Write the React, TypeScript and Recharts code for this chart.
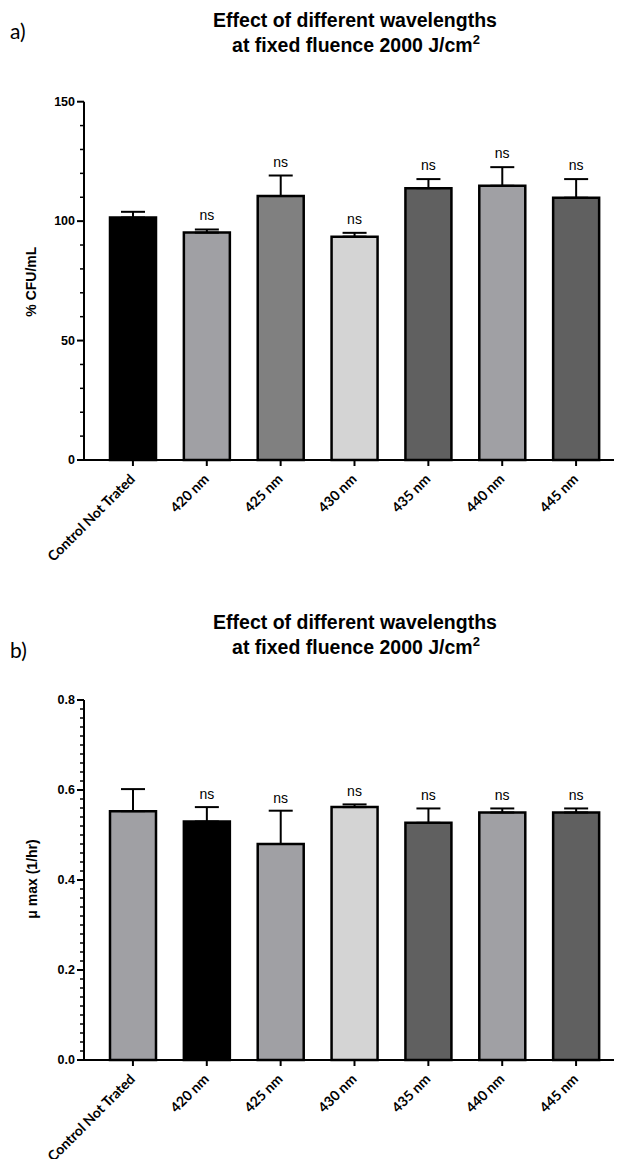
import React from 'react';
import { ComposedChart, Bar, Line, XAxis, YAxis, ErrorBar, LabelList, Cell } from 'recharts';

const categories = ['Control Not Trated', '420 nm', '425 nm', '430 nm', '435 nm', '440 nm', '445 nm'];

const cfuValues = [101.5, 95.2, 110.5, 93.5, 113.8, 114.8, 109.8];
const cfuErrors = [2.4, 1.3, 8.6, 1.6, 3.8, 7.8, 7.8];
const cfuColors = ['#000000', '#a0a0a4', '#808080', '#d4d4d4', '#606060', '#a0a0a4', '#606060'];
const cfuTicks = [0, 10, 20, 30, 40, 50, 60, 70, 80, 90, 100, 110, 120, 130, 140, 150];
const cfuMajorTicks = [0, 50, 100, 150];

const muValues = [0.553, 0.530, 0.480, 0.562, 0.527, 0.550, 0.550];
const muErrors = [0.049, 0.032, 0.074, 0.006, 0.032, 0.009, 0.009];
const muColors = ['#a0a0a4', '#000000', '#a0a0a4', '#d4d4d4', '#606060', '#a0a0a4', '#606060'];
const muTicks = [
  0, 0.02, 0.04, 0.06, 0.08, 0.1, 0.12, 0.14, 0.16, 0.18,
  0.2, 0.22, 0.24, 0.26, 0.28, 0.3, 0.32, 0.34, 0.36, 0.38,
  0.4, 0.42, 0.44, 0.46, 0.48, 0.5, 0.52, 0.54, 0.56, 0.58,
  0.6, 0.62, 0.64, 0.66, 0.68, 0.7, 0.72, 0.74, 0.76, 0.78, 0.8,
];
const muMajorTicks = [0, 0.2, 0.4, 0.6, 0.8];

const sigLabels = ['', 'ns', 'ns', 'ns', 'ns', 'ns', 'ns'];

const buildRows = (values: number[], errors: number[]) =>
  categories.map((name, i) => ({
    name,
    value: values[i],
    err: [0, errors[i]],
    top: values[i] + errors[i],
    sig: sigLabels[i],
  }));

const cfuData = buildRows(cfuValues, cfuErrors);
const muData = buildRows(muValues, muErrors);

const ARIAL = '"Liberation Sans", Arial, sans-serif';

const makeYTick = (majors: number[], fmt: (v: number) => string) => (props: any) => {
  const { x, y, payload } = props;
  const v = payload.value as number;
  const major = majors.some((m) => Math.abs(m - v) < 1e-9);
  const len = major ? 7 : 4;
  return (
    <g>
      <line x1={x - len} x2={x} y1={y} y2={y} stroke="#000" strokeWidth={major ? 2 : 1.5} />
      {major && (
        <text
          x={x - len - 2}
          y={y}
          textAnchor="end"
          dominantBaseline="central"
          fontFamily={ARIAL}
          fontWeight={700}
          fontSize={12.5}
          fill="#000"
        >
          {fmt(v)}
        </text>
      )}
    </g>
  );
};

const XTick = (props: any) => {
  const { x, y, payload } = props;
  const ax = x + 3;
  const ay = y + 14;
  return (
    <text
      x={ax}
      y={ay}
      transform={`rotate(-45, ${ax}, ${ay})`}
      textAnchor="end"
      fontFamily="Lato, 'Open Sans', sans-serif"
      fontWeight={700}
      fontSize={14}
      fill="#000"
    >
      {payload.value}
    </text>
  );
};

type PanelProps = {
  data: any[];
  colors: string[];
  ticks: number[];
  majors: number[];
  domain: [number, number];
  fmt: (v: number) => string;
  height: number;
  marginTop: number;
  marginBottom: number;
  xHeight: number;
  nsOffset: number;
};

const Panel = ({ data, colors, ticks, majors, domain, fmt, height, marginTop, marginBottom, xHeight, nsOffset }: PanelProps) => (
  <ComposedChart
    width={621}
    height={height}
    data={data}
    margin={{ top: marginTop, right: 7, bottom: marginBottom, left: 0 }}
  >
    <XAxis
      dataKey="name"
      height={xHeight}
      interval={0}
      padding={{ left: 12, right: 1 }}
      axisLine={{ stroke: '#000', strokeWidth: 2 }}
      tickLine={{ stroke: '#000', strokeWidth: 2 }}
      tickSize={6}
      tickMargin={0}
      tick={<XTick />}
    />
    <YAxis
      type="number"
      domain={domain}
      ticks={ticks}
      interval={0}
      width={84}
      axisLine={{ stroke: '#000', strokeWidth: 2 }}
      tickLine={false}
      tickSize={0}
      tickMargin={0}
      tick={makeYTick(majors, fmt)}
    />
    <Bar dataKey="value" barSize={46} stroke="#000" strokeWidth={2.5} isAnimationActive={false}>
      {data.map((_, i) => (
        <Cell key={i} fill={colors[i]} />
      ))}
      <ErrorBar dataKey="err" width={12} stroke="#000" strokeWidth={2} direction="y" />
    </Bar>
    <Line
      dataKey="top"
      stroke="none"
      dot={false}
      activeDot={false}
      isAnimationActive={false}
      legendType="none"
    >
      <LabelList
        dataKey="sig"
        position="top"
        offset={nsOffset}
        fill="#000"
        fontFamily={ARIAL}
        fontSize={14}
      />
    </Line>
  </ComposedChart>
);

const Title = ({ y }: { y: number }) => (
  <g fontFamily={ARIAL} fontWeight={700} fill="#000" textAnchor="middle">
    <text x={355} y={y} fontSize={19.5}>
      Effect of different wavelengths
    </text>
    <text x={356} y={y + 25} fontSize={19.5}>
      at fixed fluence 2000 J/cm
      <tspan fontSize={13} dy={-8}>
        2
      </tspan>
    </text>
  </g>
);

export default function App() {
  return (
    <div style={{ position: 'absolute', left: 0, top: 0, width: 621, height: 1159, background: '#fff', overflow: 'hidden' }}>
      <div style={{ position: 'absolute', left: 0, top: 0 }}>
        <Panel
          data={cfuData}
          colors={cfuColors}
          ticks={cfuTicks}
          majors={cfuMajorTicks}
          domain={[0, 150]}
          fmt={(v) => String(v)}
          height={580}
          marginTop={101.7}
          marginBottom={10}
          xHeight={110}
          nsOffset={9}
        />
      </div>
      <div style={{ position: 'absolute', left: 0, top: 580 }}>
        <Panel
          data={muData}
          colors={muColors}
          ticks={muTicks}
          majors={muMajorTicks}
          domain={[0, 0.8]}
          fmt={(v) => v.toFixed(1)}
          height={579}
          marginTop={120}
          marginBottom={9}
          xHeight={90}
          nsOffset={8}
        />
      </div>
      <svg
        width={621}
        height={1159}
        style={{ position: 'absolute', left: 0, top: 0, pointerEvents: 'none' }}
      >
        <text x={10} y={39} fontFamily="Lato, 'Open Sans', sans-serif" fontSize={21} fill="#000">
          a)
        </text>
        <Title y={27} />
        <text
          transform="translate(31, 281.7) rotate(-90)"
          textAnchor="middle"
          dominantBaseline="central"
          fontFamily={ARIAL}
          fontWeight={700}
          fontSize={14}
          fill="#000"
        >
          % CFU/mL
        </text>
        <text x={10} y={658} fontFamily="Lato, 'Open Sans', sans-serif" fontSize={21} fill="#000">
          b)
        </text>
        <Title y={629} />
        <text
          transform="translate(32, 879) rotate(-90)"
          textAnchor="middle"
          dominantBaseline="central"
          fontFamily={ARIAL}
          fontWeight={700}
          fontSize={14}
          fill="#000"
        >
          μ max (1/hr)
        </text>
      </svg>
    </div>
  );
}
